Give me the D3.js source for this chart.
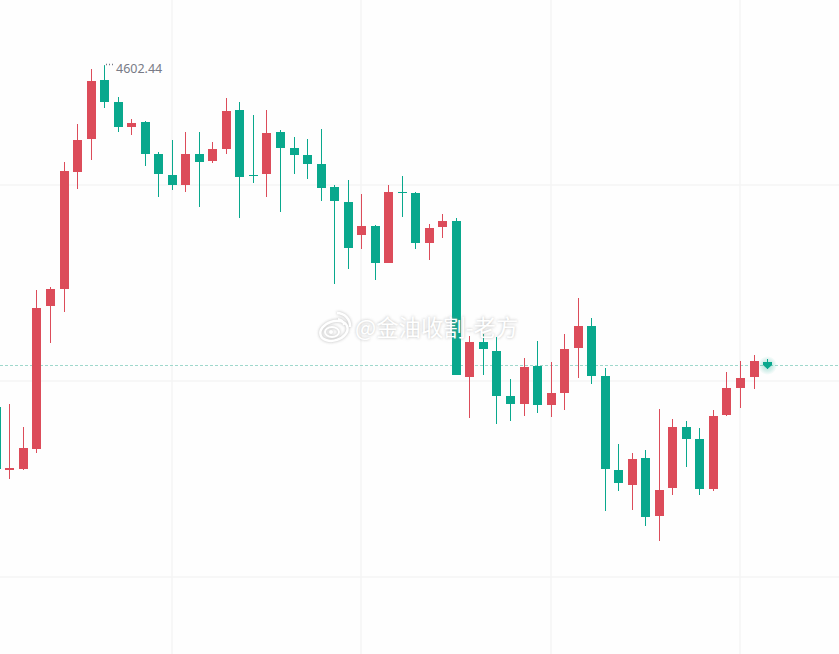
<!DOCTYPE html>
<html>
<head>
<meta charset="utf-8">
<script src="https://cdn.jsdelivr.net/npm/d3@7"></script>
<style>
html, body { margin: 0; padding: 0; background: #fefefe; overflow: hidden; }
</style>
</head>
<body>
<svg id="chart"></svg>
<script>
var width = 839;
var height = 654;

var opens = [4431.5, 4400, 4400.5, 4410.5, 4482, 4490.5, 4549, 4565.5, 4595, 4584,
  4571.5, 4574, 4558, 4547.5, 4542.5, 4558, 4554.5, 4560.5, 4580, 4547.5,
  4548, 4569, 4561, 4557.5, 4553, 4541.5, 4534, 4517.5, 4522, 4503.5,
  4539, 4538.5, 4513.5, 4521.5, 4524.5, 4446.5, 4464, 4459.5, 4437, 4433,
  4452, 4432.5, 4438.5, 4461, 4472, 4447, 4400, 4392.5, 4406, 4377,
  4391, 4421.5, 4415.5, 4390.5, 4427.5, 4441, 4446.5, 4454];
var highs = [4435, 4433, 4421.5, 4490, 4491.5, 4554, 4573, 4600.5, 4602.44, 4586.5,
  4575.5, 4574.5, 4559, 4565, 4569, 4569, 4564, 4586, 4584, 4577.5,
  4580, 4570, 4566.5, 4565.5, 4570.5, 4542.5, 4545, 4538, 4522.5, 4542.5,
  4547, 4539, 4523, 4528, 4526, 4467, 4468, 4466.5, 4445.5, 4456,
  4464.5, 4454, 4468, 4486, 4476, 4451, 4413, 4408.5, 4410, 4430.5,
  4425.5, 4424.5, 4421, 4430, 4449, 4454.5, 4457.5, 4455.5];
var lows = [4397.5, 4395.5, 4400, 4408.5, 4463.5, 4479, 4540.5, 4555, 4581, 4569,
  4567.5, 4552, 4536.5, 4540, 4539, 4531.5, 4553.5, 4558, 4526, 4543.5,
  4536.5, 4529, 4548, 4545.5, 4534.5, 4493, 4500.5, 4510.5, 4495, 4503.5,
  4526.5, 4510.5, 4505, 4516, 4447.5, 4426, 4447.5, 4423, 4424.5, 4427,
  4428.5, 4426.5, 4430, 4446, 4443, 4379.5, 4389.5, 4380, 4372, 4364.5,
  4387.5, 4401.5, 4387.5, 4389.5, 4427, 4431, 4440.5, 4450.5];
var closes = [4400.5, 4401, 4411, 4481, 4490.5, 4549.5, 4565, 4594.5, 4584, 4571.5,
  4573.5, 4558, 4548, 4542.5, 4558, 4554, 4560.5, 4579.5, 4546.5, 4547,
  4568.5, 4561, 4557.5, 4553, 4541, 4534.5, 4511, 4522, 4503.5, 4539,
  4538.5, 4513.5, 4521, 4524.5, 4447.5, 4464, 4460.5, 4437, 4433, 4451.5,
  4432.5, 4438.5, 4460.5, 4472, 4447, 4400.5, 4393.5, 4405.5, 4376.5, 4390,
  4421.5, 4415.5, 4390.5, 4427, 4441, 4446, 4454.5, 4452.5];

var priceTicks = [4542.5, 4444.5, 4346.5];
var timeTicks = [13, 27, 41, 55];
var highLabel = '4602.44';
var highIndex = 8;
var lastPrice = 4452.5;
var watermark = '@金油收割-老方';

var upColor = '#dc4c5a';
var downColor = '#09a88d';
var gridColor = '#f5f5f5';

var candles = opens.map(function(o, i) {
  return { i: i, open: o, high: highs[i], low: lows[i], close: closes[i] };
});

var x = d3.scaleLinear().domain([0, 57]).range([-3.63, 767.58]);
var y = d3.scaleLinear().domain([4635, 4308]).range([0, 654]);

var svg = d3.select('#chart').attr('width', width).attr('height', height)
  .style('display', 'block');

var defs = svg.append('defs');
var halo = defs.append('radialGradient').attr('id', 'halo');
halo.append('stop').attr('offset', '0%').attr('stop-color', downColor).attr('stop-opacity', 0.35);
halo.append('stop').attr('offset', '60%').attr('stop-color', downColor).attr('stop-opacity', 0.16);
halo.append('stop').attr('offset', '100%').attr('stop-color', downColor).attr('stop-opacity', 0);
var blur = defs.append('filter').attr('id', 'wm-shadow')
  .attr('x', '-10%').attr('y', '-30%').attr('width', '120%').attr('height', '160%');
blur.append('feGaussianBlur').attr('stdDeviation', 1.8);

// grid
var xAxisGrid = d3.axisBottom(x).tickValues(timeTicks).tickSize(height).tickFormat('').offset(0);
var yAxisGrid = d3.axisLeft(y).tickValues(priceTicks).tickSize(-width).tickFormat('').offset(0);
var gridX = svg.append('g').call(xAxisGrid);
var gridY = svg.append('g').call(yAxisGrid);
gridX.select('.domain').remove();
gridY.select('.domain').remove();
gridX.selectAll('line').attr('stroke', gridColor).attr('stroke-width', 1.5)
  .attr('transform', function(d) { return 'translate(' + (Math.floor(x(d)) - x(d)) + ',0)'; });
gridY.selectAll('line').attr('stroke', gridColor).attr('stroke-width', 1.5);

// last price line
svg.append('line')
  .attr('x1', 0).attr('x2', width)
  .attr('y1', Math.round(y(lastPrice)) + 0.5).attr('y2', Math.round(y(lastPrice)) + 0.5)
  .attr('stroke', '#9fd8cc').attr('stroke-dasharray', '3,2');

// candles
var color = function(d) { return d.close >= d.open ? upColor : downColor; };
var px = function(d) { return Math.floor(x(d.i)); };
var candle = svg.selectAll('.candle').data(candles).enter().append('g').classed('candle', true);
candle.append('rect')
  .attr('x', px)
  .attr('width', 1)
  .attr('y', function(d) { return y(d.high); })
  .attr('height', function(d) { return y(d.low) - y(d.high); })
  .attr('fill', color);
candle.append('rect')
  .attr('x', function(d) { return px(d) - 4; })
  .attr('width', 9)
  .attr('y', function(d) { return Math.round(y(Math.max(d.open, d.close))); })
  .attr('height', function(d) {
    return Math.max(1, Math.round(y(Math.min(d.open, d.close))) - Math.round(y(Math.max(d.open, d.close))));
  })
  .attr('fill', color);

// high label
var hx = px(candles[highIndex]);
var hy = y(highs[highIndex]);
svg.append('line')
  .attr('x1', hx + 2).attr('x2', hx + 11)
  .attr('y1', Math.floor(hy) - 0.5).attr('y2', Math.floor(hy) - 0.5)
  .attr('stroke', '#787b86').attr('stroke-width', 1.5).attr('stroke-dasharray', '1,2');
svg.append('text')
  .attr('x', hx + 12).attr('y', hy + 8)
  .attr('font-family', '"Noto Sans", sans-serif')
  .attr('font-size', 12.5)
  .attr('fill', '#787b86')
  .text(highLabel);

// last candle marker
var lastX = px(candles[candles.length - 1]) + 0.5;
var lastY = y(lastPrice);
svg.insert('circle', '.candle')
  .attr('cx', lastX).attr('cy', lastY + 0.5).attr('r', 9.5)
  .attr('fill', 'url(#halo)');
svg.append('path')
  .attr('d', d3.line()([[lastX - 4.5, lastY - 3], [lastX + 4.5, lastY - 3], [lastX + 4.5, lastY], [lastX, lastY + 4], [lastX - 4.5, lastY]]))
  .attr('fill', downColor);

// watermark
var wm = svg.append('g');
var drawWm = function(g, fill, stroke) {
  var logo = g.append('g').attr('transform', 'translate(333,328)');
  logo.append('ellipse').attr('cx', 0).attr('cy', 3).attr('rx', 14).attr('ry', 9.5)
    .attr('transform', 'rotate(-18)')
    .attr('fill', 'none').attr('stroke', stroke).attr('stroke-width', 2.5);
  logo.append('ellipse').attr('cx', -1).attr('cy', 4).attr('rx', 7).attr('ry', 5)
    .attr('fill', 'none').attr('stroke', stroke).attr('stroke-width', 2);
  logo.append('circle').attr('cx', -2).attr('cy', 4).attr('r', 2).attr('fill', stroke);
  logo.append('path').attr('d', 'M4,-15 A13,13 0 0 1 17,-1').attr('fill', 'none')
    .attr('stroke', stroke).attr('stroke-width', 2.5);
  logo.append('path').attr('d', 'M5,-9 A7,7 0 0 1 11,-3').attr('fill', 'none')
    .attr('stroke', stroke).attr('stroke-width', 2);
  g.append('text')
    .attr('x', 355).attr('y', 336)
    .attr('font-family', '"Noto Sans CJK SC", sans-serif')
    .attr('font-size', 22.4)
    .attr('fill', fill)
    .text(watermark);
};
drawWm(wm.append('g').attr('filter', 'url(#wm-shadow)').attr('opacity', 0.6), '#8a8a8a', '#8a8a8a');
drawWm(wm.append('g'), '#ffffff', '#ffffff');
</script>
</body>
</html>
